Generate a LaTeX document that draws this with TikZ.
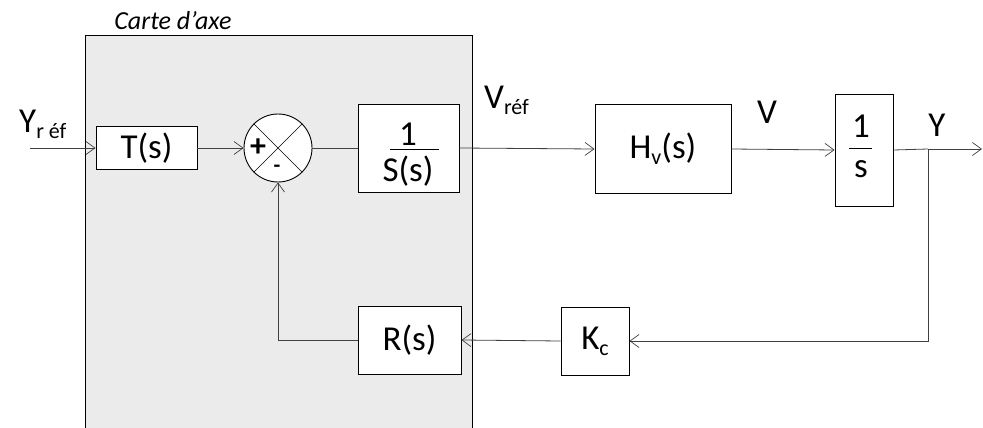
\documentclass[tikz,border=0pt]{standalone}
\usepackage{fontspec}
\setmainfont{Carlito}
\usetikzlibrary{arrows.meta}
\newcommand{\mysub}[1]{{\fontsize{22}{24}\selectfont\raisebox{-0.28em}{#1}}}
\begin{document}
\begin{tikzpicture}[x=1pt,y=-1pt,
  blk/.style={draw=black, line width=0.9pt, fill=white, inner sep=0pt},
  txt/.style={font=\fontsize{35}{38}\selectfont, inner sep=0pt},
  conn/.style={draw=black!75, line width=0.8pt},
  arr/.style={conn, -{Straight Barb[length=9pt,width=13pt,line width=0.7pt]}}]
\useasboundingbox (0,0) rectangle (983,428);
% Carte d'axe region
\node[draw=black, line width=0.9pt, fill=black!8, minimum width=387pt, minimum height=394pt, inner sep=0pt] (carte) at (278.5,232) {};
\node[font=\fontsize{26}{28}\selectfont\itshape, inner sep=0pt] (cartelbl) at (173,21) {Carte d'axe};

% blocks
\node[blk, txt, minimum width=101pt, minimum height=43pt] (T) at (146.5,148) {T(s)};
\node[circle, draw=black, line width=0.9pt, fill=white, minimum size=68pt, inner sep=0pt] (sum) at (278,148) {};
\draw[line width=0.7pt] (sum.north west) -- (sum.south east) (sum.north east) -- (sum.south west);
\node[font=\fontsize{32}{32}\selectfont\bfseries, inner sep=0pt] (plus) at (258,148) {+};
\node[font=\fontsize{22}{22}\selectfont\bfseries, inner sep=0pt] (minus) at (277,169) {-};
\node[blk, minimum width=101pt, minimum height=88pt] (S) at (408.5,148) {};
\node[txt] (Snum) at (408,134) {1};
\node[txt] (Sden) at (408,171) {S(s)};
\coordinate (Sb1) at (390,149);
\coordinate (Sb2) at (439,149);
\draw[line width=0.9pt] (Sb1) -- (Sb2);
\node[blk, txt, minimum width=136pt, minimum height=89pt] (H) at (663,149) {H\mysub{v}(s)};
\node[blk, minimum width=58pt, minimum height=112pt] (I) at (864,150) {};
\node[txt] (Inum) at (861,126) {1};
\node[txt] (Iden) at (861,169) {s};
\coordinate (Ib1) at (849,148);
\coordinate (Ib2) at (872,148);
\draw[line width=0.9pt] (Ib1) -- (Ib2);
\node[blk, txt, minimum width=103pt, minimum height=68pt] (R) at (409.5,340) {R(s)};
\node[blk, txt, minimum width=68pt, minimum height=68pt] (K) at (595,341) {K\mysub{c}};

% labels
\node[txt, anchor=south west] (yref) at (19,139) {Y\mysub{r éf}};
\node[txt, anchor=south west] (vref) at (484,115) {V\mysub{réf}};
\node[txt] (vl) at (767,112) {V};
\node[txt] (yl) at (937,125) {Y};

% connectors
\coordinate (in) at (30,148);
\coordinate (br) at (928,149);
\coordinate (out) at (982,149);
\coordinate (brd) at (928,341);
\coordinate (fbc) at (278,340);
\draw[arr] (in) -- (T.west);
\draw[arr] (T.east) -- (sum.west);
\draw[conn] (sum.east) -- (S.west);
\draw[arr] (S.east) -- (H.west);
\draw[arr] (H.east) -- (I.west);
\draw[conn] (I.east) -- (br);
\draw[arr] (br) -- (out);
\draw[arr] (br) -- (brd) -- (K.east);
\draw[arr] (K.west) -- (R.east);
\draw[arr] (R.west) -- (fbc) -- (sum.south);
\end{tikzpicture}
\end{document}
